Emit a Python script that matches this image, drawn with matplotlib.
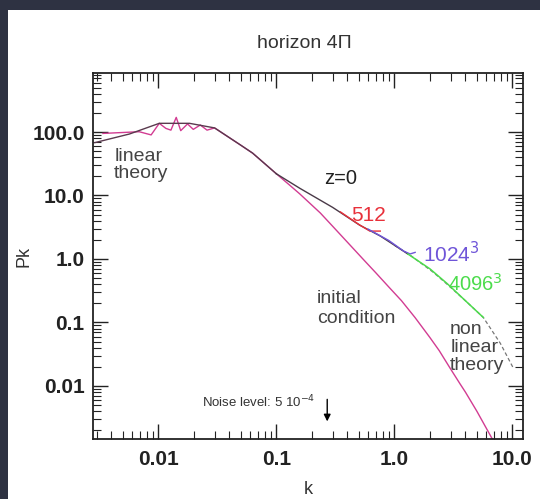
import matplotlib
matplotlib.use("Agg")
import matplotlib.pyplot as plt
from matplotlib.patches import Rectangle
from matplotlib.ticker import FixedLocator, LogLocator, NullFormatter

plt.rcParams['font.family'] = ['Liberation Sans', 'DejaVu Sans']

# linear theory (large scales)
k_lin = [0.0029, 0.0057, 0.0102, 0.0184, 0.03, 0.05, 0.063, 0.1]
p_lin = [68, 93, 137, 137, 116, 62, 46.5, 22]

# initial condition, with cosmic variance wiggles at low k
k_init = [0.0034, 0.0069, 0.0087, 0.0102, 0.0116, 0.0128, 0.0142, 0.0155,
          0.0177, 0.0198, 0.0227, 0.0259, 0.03, 0.05, 0.063, 0.1, 0.13, 0.158,
          0.236, 0.3, 0.4, 0.55, 0.7, 0.9, 1.15, 1.5, 2.0, 2.4, 2.97, 3.6, 4.0,
          5.0, 5.9, 7.0]
p_init = [95, 101, 90, 137, 114, 107, 170, 105,
          134, 110, 129, 107, 116, 62, 46.5, 22, 14.5, 10.6,
          5.3, 3.28, 1.84, 0.97, 0.60, 0.36, 0.22, 0.119, 0.058, 0.036, 0.019,
          0.0108, 0.0080, 0.0040, 0.0023, 0.0013]

# z=0 simulations
k_z0 = [0.1, 0.158, 0.3, 0.51, 0.76, 1.0, 1.3]
p_z0 = [22, 13, 6.5, 3.4, 2.3, 1.65, 1.2]
k_512 = [0.35, 0.5, 0.62, 0.76]
p_512 = [5.5, 3.5, 2.75, 2.75]
k_1024 = [0.6, 0.9, 1.2, 1.36, 1.5]
p_1024 = [2.95, 1.95, 1.33, 1.2, 1.27]
k_4096 = [1.3, 2.0, 2.8, 4.0, 5.67]
p_4096 = [1.2, 0.7, 0.41, 0.22, 0.12]

# non linear theory
k_nl = [1.0, 1.36, 2.13, 2.8, 4.0, 5.67, 7.9, 10.2]
p_nl = [1.65, 1.15, 0.62, 0.40, 0.22, 0.12, 0.047, 0.019]

noise_k = 0.27

x_ticks = [0.01, 0.1, 1.0, 10.0]
x_labels = ['0.01', '0.1', '1.0', '10.0']
y_ticks = [0.01, 0.1, 1.0, 10.0, 100.0]
y_labels = ['0.01', '0.1', '1.0', '10.0', '100.0']

fig = plt.figure(figsize=(5.40, 4.99), dpi=100, facecolor='#2e3242')
fig.patches.append(Rectangle((8 / 540, 0), 1, 1 - 10 / 499, transform=fig.transFigure,
                             facecolor='white', edgecolor='none', zorder=-10))
ax = fig.add_axes([93 / 540, 1 - 439 / 499, 430 / 540, 366 / 499])
ax.set_facecolor('white')
ax.set_xscale('log')
ax.set_yscale('log')
ax.set_xlim(0.0028, 12.3)
ax.set_ylim(0.00146, 850)

ax.plot(k_init, p_init, color='#d23c92', lw=1.0, zorder=2)
ax.plot(k_lin, p_lin, color='#5a3a4e', lw=1.0, zorder=3)
ax.plot(k_nl, p_nl, color='#777777', lw=0.9, ls=(0, (3, 2)), zorder=2)
ax.plot(k_z0, p_z0, color='#4a3a48', lw=1.0, zorder=3)
ax.plot(k_512, p_512, color='#e8303a', lw=1.0, zorder=4)
ax.plot(k_1024, p_1024, color='#6f55d8', lw=1.0, zorder=4)
ax.plot(k_4096, p_4096, color='#4cdc4c', lw=1.1, zorder=4)

txt = '#444444'
ax.text(0.00423, 56, 'linear\ntheory', fontsize=14, color=txt, va='top', ha='left', linespacing=1.0)
ax.text(0.35, 18.7, 'z=0', fontsize=14.5, color='#222222', va='center', ha='center')
ax.text(0.61, 4.9, '512', fontsize=15, color='#e8303a', va='center', ha='center')
ax.text(1.75, 1.22, '1024$^3$', fontsize=15, color='#6f55d8', va='center', ha='left')
ax.text(2.86, 0.41, '4096$^3$', fontsize=14.5, color='#4cdc4c', va='center', ha='left')
ax.text(0.22, 0.32, 'initial\ncondition', fontsize=14, color=txt, va='top', ha='left', linespacing=1.2)
ax.text(2.97, 0.107, 'non\nlinear\ntheory', fontsize=14, color=txt, va='top', ha='left', linespacing=1.08)
ax.text(0.0237, 0.0056, 'Noise level: 5 10$^{-4}$', fontsize=9.5, color='#333333', va='center', ha='left')
ax.annotate('', xy=(noise_k, 0.0025), xytext=(noise_k, 0.0068),
            arrowprops=dict(arrowstyle='-|>', color='black', lw=1.0, mutation_scale=10))

ax.xaxis.set_major_locator(FixedLocator(x_ticks))
ax.set_xticklabels(x_labels)
ax.yaxis.set_major_locator(FixedLocator(y_ticks))
ax.set_yticklabels(y_labels)
ax.xaxis.set_minor_locator(LogLocator(base=10, subs=range(2, 10)))
ax.yaxis.set_minor_locator(LogLocator(base=10, subs=range(2, 10)))
ax.xaxis.set_minor_formatter(NullFormatter())
ax.yaxis.set_minor_formatter(NullFormatter())
ax.tick_params(which='both', direction='in', top=True, right=True, colors='#222222')
ax.tick_params(which='major', length=11, width=1.0, labelsize=15)
ax.tick_params(axis='x', which='major', pad=8)
ax.tick_params(axis='y', which='major', pad=6)
ax.tick_params(which='minor', length=6, width=0.8)
for lab in ax.get_xticklabels() + ax.get_yticklabels():
    lab.set_fontweight('bold')
for sp in ax.spines.values():
    sp.set_linewidth(1.3)
    sp.set_color('#222222')

ax.set_xlabel('k', fontsize=13, color='#333333')
ax.set_ylabel('Pk', fontsize=13, color='#333333')
ax.xaxis.set_label_coords(0.5, -0.115)
ax.yaxis.set_label_coords(-0.14, 0.5)
fig.text(304 / 540, 1 - 43 / 499, 'horizon 4\u03a0', fontsize=14, color='#333333',
         ha='center', va='center')

fig.savefig('out.png', dpi=100, facecolor=fig.get_facecolor())
